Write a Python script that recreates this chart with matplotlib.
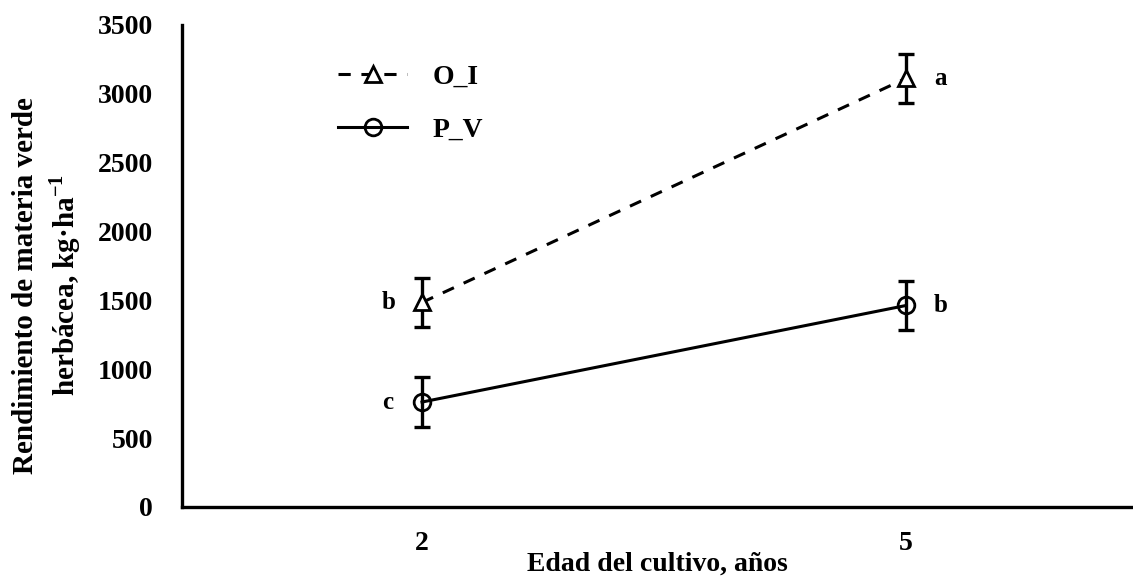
import matplotlib
matplotlib.use("Agg")
import matplotlib.pyplot as plt

# data
edades = ["2", "5"]
oi_media = [1485, 3112]
oi_error = [177, 178]
pv_media = [762, 1463]
pv_error = [182, 178]
oi_letras = ["b", "a"]
pv_letras = ["c", "b"]

plt.rcParams['font.family'] = 'Liberation Serif'
plt.rcParams['font.weight'] = 'bold'
plt.rcParams['mathtext.fontset'] = 'custom'
plt.rcParams['mathtext.rm'] = 'Liberation Serif'
plt.rcParams['mathtext.bf'] = 'Liberation Serif:bold'

fig = plt.figure(figsize=(11.33, 5.79), dpi=100)
ax = fig.add_axes([0.1606, 0.1244, 0.8394, 0.8325])

x = list(range(len(edades)))

# barras de error (sin leyenda)
ax.errorbar(x, oi_media, yerr=oi_error, fmt='none', ecolor='black',
            elinewidth=2.4, capsize=6, capthick=2.4)
ax.errorbar(x, pv_media, yerr=pv_error, fmt='none', ecolor='black',
            elinewidth=2.4, capsize=6, capthick=2.4)

# lineas con marcadores
ax.plot(x, oi_media, color='black', linestyle='--', dashes=(4, 3.5), linewidth=2.2,
        marker='^', markersize=12, markerfacecolor='white', markeredgewidth=2,
        label='O_I')
ax.plot(x, pv_media, color='black', linestyle='-', linewidth=2.2,
        marker='o', markersize=12, markerfacecolor='none', markeredgewidth=2,
        label='P_V')

# letras de significancia
for i in x:
    dx = -0.07 if i == 0 else 0.072
    ax.text(i + dx, oi_media[i], oi_letras[i], fontsize=18, fontweight='bold',
            ha='center', va='center')
    ax.text(i + dx, pv_media[i], pv_letras[i], fontsize=18, fontweight='bold',
            ha='center', va='center')

ax.set_xlim(-0.496, 1.469)
ax.set_ylim(0, 3500)
ax.set_yticks(range(0, 3501, 500))
ax.set_xticks(x)
ax.set_xticklabels(edades)
ax.tick_params(axis='y', length=0, labelsize=20, pad=21)
ax.tick_params(axis='x', length=0, labelsize=20, pad=17)

for s in ['top', 'right']:
    ax.spines[s].set_visible(False)
for s in ['left', 'bottom']:
    ax.spines[s].set_linewidth(2.4)

ax.set_xlabel("Edad del cultivo, años", fontsize=20, fontweight='bold')
ax.xaxis.set_label_coords(0.5, -0.118)
ax.xaxis.label.set_verticalalignment('center')
ax.set_ylabel("Rendimiento de materia verde\nherbácea, kg·ha$^{\\mathbf{-1}}$",
              fontsize=21, fontweight='bold', linespacing=1.3)
ax.yaxis.set_label_coords(-0.104, 0.46)

leg = ax.legend(loc='upper left', bbox_to_anchor=(0.164, 0.918), frameon=False,
                fontsize=20, handlelength=2.5, handletextpad=0.9, labelspacing=1.0,
                borderpad=0, borderaxespad=0)
for t in leg.get_texts():
    t.set_fontweight('bold')

fig.savefig("out.png", dpi=100)
